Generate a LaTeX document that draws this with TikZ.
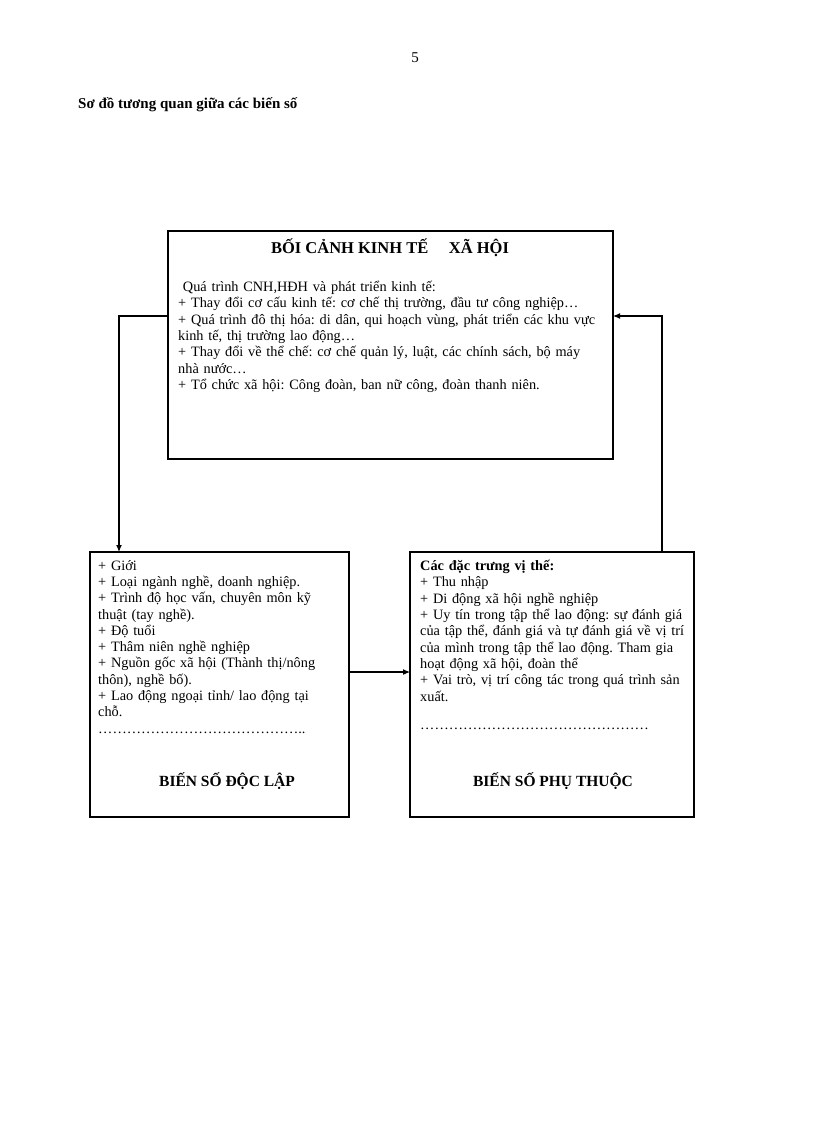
\documentclass[tikz,border=0pt]{standalone}
\usepackage{fontspec}
\usetikzlibrary{arrows.meta}
\setmainfont{Liberation Serif}
\frenchspacing
\begin{document}
\begin{tikzpicture}[x=1pt,y=-1pt,
  box/.style={draw,line width=1.2pt},
  txt/.style={anchor=north west,align=left,inner sep=0pt,font=\frenchspacing\fontsize{14.3}{16.3}\selectfont},
  arr/.style={line width=1.1pt,-{Latex[length=7pt,width=6pt]}}]
\useasboundingbox (0,0) rectangle (816,1123);
\node (pg) at (415,58) {\fontsize{15}{16}\selectfont 5};
\node[anchor=west,inner sep=0pt] (hd) at (78,105) {\fontsize{15}{16}\selectfont\bfseries Sơ đồ tương quan giữa các biến số};
\draw[box] (168,231) rectangle (613,459);
\coordinate (topL) at (168,316); \coordinate (topR) at (613,316);
\node (t1) at (390,248) {\fontsize{16.5}{18}\selectfont\bfseries BỐI CẢNH KINH TẾ\quad\ XÃ HỘI};
\node[txt,text width=440] (t2) at (178,281) {\ Quá trình CNH,HĐH và phát triển kinh tế:\\
+ Thay đổi cơ cấu kinh tế: cơ chế thị trường, đầu tư công nghiệp…\\
+ Quá trình đô thị hóa: di dân, qui hoạch vùng, phát triển các khu vực\\
kinh tế, thị trường lao động…\\
+ Thay đổi về thể chế: cơ chế quản lý, luật, các chính sách, bộ máy\\
nhà nước…\\
+ Tổ chức xã hội: Công đoàn, ban nữ công, đoàn thanh niên.};
\draw[box] (90,552) rectangle (349,817);
\coordinate (lT) at (119,552); \coordinate (lR) at (349,672);
\node[txt,text width=250] (l1) at (98,560) {+ Giới\\
+ Loại ngành nghề, doanh nghiệp.\\
+ Trình độ học vấn, chuyên môn kỹ\\
thuật (tay nghề).\\
+ Độ tuổi\\
+ Thâm niên nghề nghiệp\\
+ Nguồn gốc xã hội (Thành thị/nông\\
thôn), nghề bố).\\
+ Lao động ngoại tỉnh/ lao động tại\\
chỗ.\\
……………………………………..};
\node (l2) at (227,781) {\fontsize{15.5}{16}\selectfont\bfseries BIẾN SỐ ĐỘC LẬP};
\draw[box] (410,552) rectangle (694,817);
\coordinate (rT) at (662,552); \coordinate (rL) at (410,672);
\node[txt,text width=280] (r1) at (420,560) {\textbf{Các đặc trưng vị thế:}\\
+ Thu nhập\\
+ Di động xã hội nghề nghiệp\\
+ Uy tín trong tập thể lao động: sự đánh giá\\
của tập thể, đánh giá và tự đánh giá về vị trí\\
của mình trong tập thể lao động. Tham gia\\
hoạt động xã hội, đoàn thể\\
+ Vai trò, vị trí công tác trong quá trình sản\\
xuất.\\[12pt]
…………………………………………};
\node (r2) at (553,781) {\fontsize{15.5}{16}\selectfont\bfseries BIẾN SỐ PHỤ THUỘC};
\draw[arr] (topL) -| (lT);
\draw[arr] (rT) |- (topR);
\draw[arr] (lR) -- (rL);
\end{tikzpicture}
\end{document}
